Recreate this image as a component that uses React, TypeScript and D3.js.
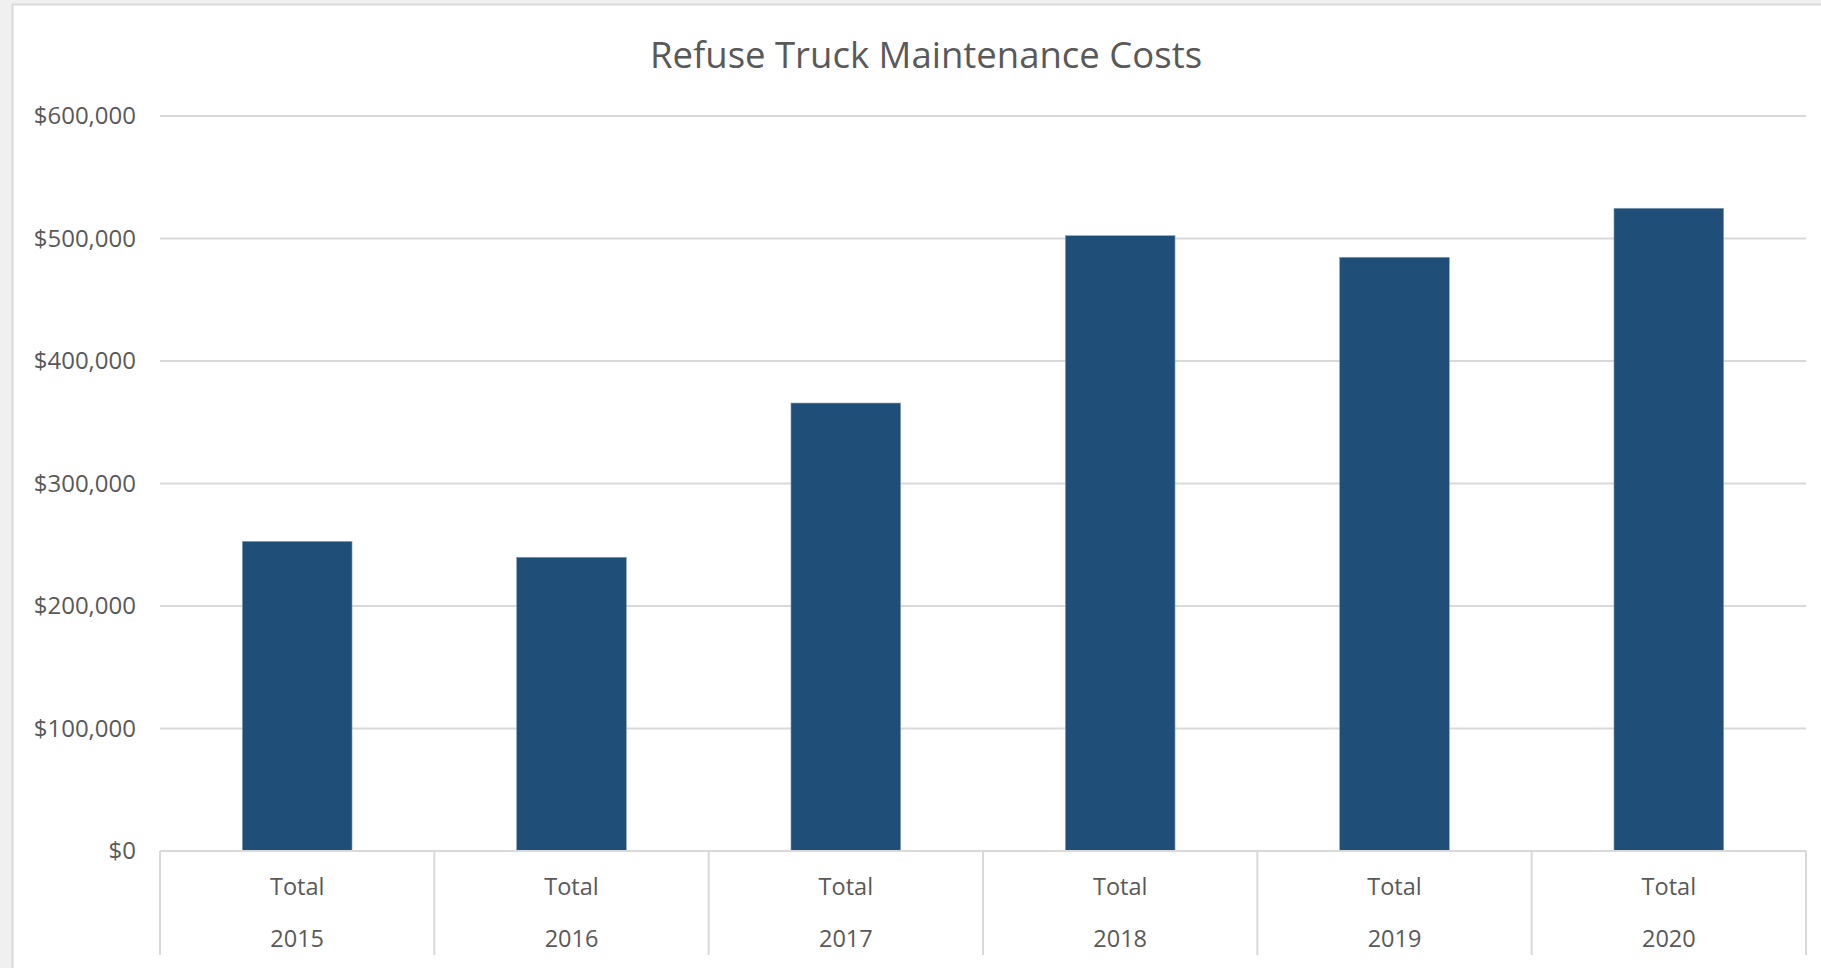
import React, { useEffect, useRef } from 'react';
import * as d3 from 'd3';

const years = ['2015', '2016', '2017', '2018', '2019', '2020'];
const groupLabel = 'Total';
const costs = [252800, 239800, 365700, 502300, 484700, 524700];
const yTicks = [0, 100000, 200000, 300000, 400000, 500000, 600000];
const title = 'Refuse Truck Maintenance Costs';

const W = 1821;
const H = 968;
const FONT = '"Open Sans", "Noto Sans", sans-serif';

const App: React.FC = () => {
  const svgRef = useRef<SVGSVGElement>(null);

  useEffect(() => {
    if (!svgRef.current) return;
    const svg = d3.select(svgRef.current);
    svg.selectAll('*').remove();

    const left = 160;
    const right = 1806;
    const top = 116;
    const bottom = 851;

    // page background + chart frame
    svg.append('rect').attr('width', W).attr('height', H).attr('fill', '#f0f0f0');
    svg.append('rect')
      .attr('x', 12.5).attr('y', 4.5)
      .attr('width', W).attr('height', H)
      .attr('fill', '#ffffff')
      .attr('stroke', '#d9d9d9')
      .attr('stroke-width', 2);

    const x = d3.scaleBand<string>().domain(years).range([left, right]).paddingInner(0.6).paddingOuter(0.3);
    const band = d3.scaleBand<string>().domain(years).range([left, right]);
    const y = d3.scaleLinear().domain([0, 600000]).range([bottom, top]);

    // title
    svg.append('text')
      .attr('x', 926).attr('y', 68)
      .attr('text-anchor', 'middle')
      .attr('font-family', FONT)
      .attr('font-size', 36.5)
      .attr('fill', '#595959')
      .text(title);

    // gridlines
    svg.append('g')
      .selectAll('line')
      .data(yTicks.filter(d => d > 0))
      .join('line')
      .attr('x1', left).attr('x2', right)
      .attr('y1', d => y(d)).attr('y2', d => y(d))
      .attr('stroke', '#d9d9d9')
      .attr('stroke-width', 2);

    // y labels
    const fmt = d3.format('$,.0f');
    svg.append('g')
      .selectAll('text')
      .data(yTicks)
      .join('text')
      .attr('x', 136)
      .attr('y', d => y(d))
      .attr('dy', '0.35em')
      .attr('text-anchor', 'end')
      .attr('font-family', FONT)
      .attr('font-size', 24)
      .attr('fill', '#595959')
      .text(d => fmt(d));

    // bars
    svg.append('g')
      .selectAll('rect')
      .data(costs)
      .join('rect')
      .attr('x', (d, i) => x(years[i])!)
      .attr('width', x.bandwidth())
      .attr('y', d => y(d))
      .attr('height', d => bottom - y(d))
      .attr('fill', '#1f4e79')
      .attr('stroke', '#8ea6bf')
      .attr('stroke-width', 0.6);

    // category axis: baseline and dividers
    svg.append('line')
      .attr('x1', left).attr('x2', right)
      .attr('y1', bottom).attr('y2', bottom)
      .attr('stroke', '#d9d9d9').attr('stroke-width', 2);

    const edges = [...years.map(yr => band(yr)!), right];
    svg.append('g')
      .selectAll('line')
      .data(edges)
      .join('line')
      .attr('x1', d => d).attr('x2', d => d)
      .attr('y1', bottom).attr('y2', 955)
      .attr('stroke', '#d9d9d9').attr('stroke-width', 2);

    const cats = svg.append('g')
      .selectAll('g')
      .data(years)
      .join('g')
      .attr('transform', d => `translate(${band(d)! + band.bandwidth() / 2},0)`);

    cats.append('text')
      .attr('y', 895)
      .attr('text-anchor', 'middle')
      .attr('font-family', FONT)
      .attr('font-size', 23.5)
      .attr('fill', '#595959')
      .text(groupLabel);

    cats.append('text')
      .attr('y', 947)
      .attr('text-anchor', 'middle')
      .attr('font-family', FONT)
      .attr('font-size', 23.5)
      .attr('fill', '#595959')
      .text(d => d);
  }, []);

  return (
    <div style={{ position: 'fixed', left: 0, top: 0, width: W, height: H }}>
      <svg ref={svgRef} width={W} height={H} style={{ display: 'block' }} />
    </div>
  );
};

export default App;
